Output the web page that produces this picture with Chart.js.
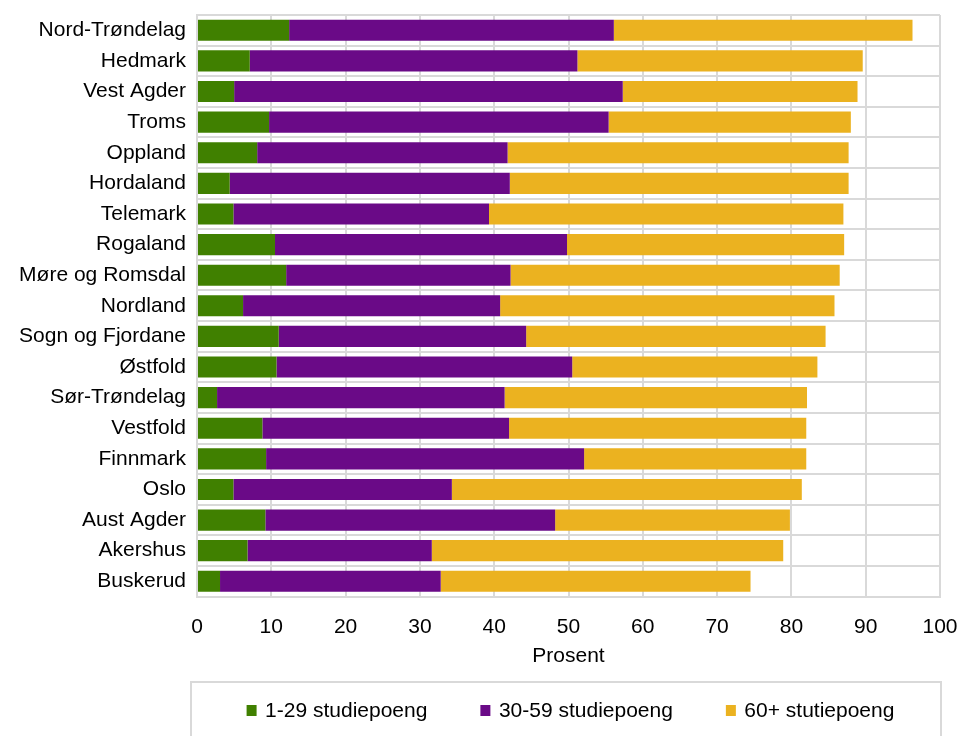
<!DOCTYPE html>
<html>
<head>
<meta charset="utf-8">
<script src="https://cdn.jsdelivr.net/npm/chart.js@4/dist/chart.umd.min.js"></script>
<style>
  html, body { margin: 0; padding: 0; background: #fff; }
  #wrap { width: 966px; height: 736px; }
</style>
</head>
<body>
<div id="wrap"><canvas id="chart" width="966" height="736"></canvas></div>
<script>
// fylker, sortert som i figuren
var fylker = ['Nord-Trøndelag', 'Hedmark', 'Vest Agder', 'Troms', 'Oppland', 'Hordaland', 'Telemark',
  'Rogaland', 'Møre og Romsdal', 'Nordland', 'Sogn og Fjordane', 'Østfold', 'Sør-Trøndelag',
  'Vestfold', 'Finnmark', 'Oslo', 'Aust Agder', 'Akershus', 'Buskerud'];

var poeng1_29 = [12.4, 7.1, 5.0, 9.7, 8.1, 4.4, 4.9, 10.5, 12.0, 6.2, 11.0, 10.7, 2.7, 8.8, 9.3, 4.9, 9.2, 6.8, 3.1];
var poeng30_59 = [43.7, 44.1, 52.3, 45.7, 33.7, 37.7, 34.4, 39.3, 30.2, 34.6, 33.3, 39.8, 38.7, 33.2, 42.8, 29.4, 39.0, 24.8, 29.7];
var poeng60 = [40.2, 38.4, 31.6, 32.6, 45.9, 45.6, 47.7, 37.3, 44.3, 45.0, 40.3, 33.0, 40.7, 40.0, 29.9, 47.1, 31.6, 47.3, 41.7];

var serieNavn = ['1-29 studiepoeng', '30-59 studiepoeng', '60+ stutiepoeng'];
var xTicks = [0, 10, 20, 30, 40, 50, 60, 70, 80, 90, 100];

var farger = ['#408000', '#6a0a87', '#ebb220'];
var gridFarge = '#d9d9d9';
var fontFamily = '"Liberation Sans", Arial, sans-serif';

// egen forklaring (legend) med ramme rundt
var legendPlugin = {
  id: 'legendBox',
  afterDraw: function(chart) {
    var ctx = chart.ctx;
    var area = chart.chartArea;
    var ds = chart.data.datasets;
    var fontSize = 21;
    var box = 10;
    var gap = 51;
    ctx.save();
    ctx.font = fontSize + 'px ' + fontFamily;
    var widths = ds.map(function(d) {
      return box + fontSize / 2 + ctx.measureText(d.label).width;
    });
    var total = widths.reduce(function(a, b) { return a + b; }, 0) + gap * (ds.length - 1);
    var x = (area.left + area.right) / 2 - total / 2 + 3;
    var yMid = 710;

    ctx.strokeStyle = gridFarge;
    ctx.lineWidth = 2;
    ctx.strokeRect(area.left - 6, 682, area.right - area.left + 7, 80);

    ctx.textBaseline = 'middle';
    ctx.textAlign = 'left';
    ds.forEach(function(d, i) {
      ctx.fillStyle = d.backgroundColor;
      ctx.fillRect(x, yMid - box / 2, box, box + 1);
      ctx.fillStyle = '#000';
      ctx.fillText(d.label, x + box + fontSize / 2 - 2, yMid + 1);
      x += widths[i] + gap;
    });
    ctx.restore();
  }
};

function drawChart() {
  var ctx = document.getElementById('chart').getContext('2d');
  new Chart(ctx, {
    type: 'bar',
    data: {
      labels: fylker,
      datasets: [
        { label: serieNavn[0], data: poeng1_29, backgroundColor: farger[0] },
        { label: serieNavn[1], data: poeng30_59, backgroundColor: farger[1] },
        { label: serieNavn[2], data: poeng60, backgroundColor: farger[2] }
      ]
    },
    options: {
      indexAxis: 'y',
      responsive: false,
      animation: false,
      layout: { padding: { top: 15, right: 26, bottom: 67, left: 0 } },
      datasets: {
        bar: { barPercentage: 0.69, categoryPercentage: 1, borderWidth: 0 }
      },
      plugins: {
        legend: { display: false },
        tooltip: { enabled: false }
      },
      scales: {
        x: {
          stacked: true,
          min: 0,
          max: 100,
          afterBuildTicks: function(scale) {
            scale.ticks = xTicks.map(function(v) { return { value: v }; });
          },
          afterFit: function(scale) {
            scale.paddingLeft = 0;
            scale.paddingRight = 0;
          },
          grid: { color: gridFarge, lineWidth: 2, drawTicks: false },
          border: { color: gridFarge, width: 2 },
          ticks: {
            padding: 18,
            color: '#000',
            font: { family: fontFamily, size: 21 },
            maxRotation: 0
          },
          title: {
            display: true,
            text: 'Prosent',
            color: '#000',
            font: { family: fontFamily, size: 21 },
            padding: { top: -14, bottom: 0 }
          }
        },
        y: {
          stacked: true,
          afterFit: function(scale) {
            scale.width = 197;
            scale.paddingTop = 0;
            scale.paddingBottom = 0;
          },
          grid: { color: gridFarge, lineWidth: 2, drawTicks: false, offset: true },
          border: { color: gridFarge, width: 2 },
          ticks: {
            padding: 11,
            color: '#000',
            font: { family: fontFamily, size: 21 },
            autoSkip: false
          }
        }
      }
    },
    plugins: [legendPlugin]
  });
}

window.onload = function() {
  drawChart();
};
</script>
</body>
</html>
